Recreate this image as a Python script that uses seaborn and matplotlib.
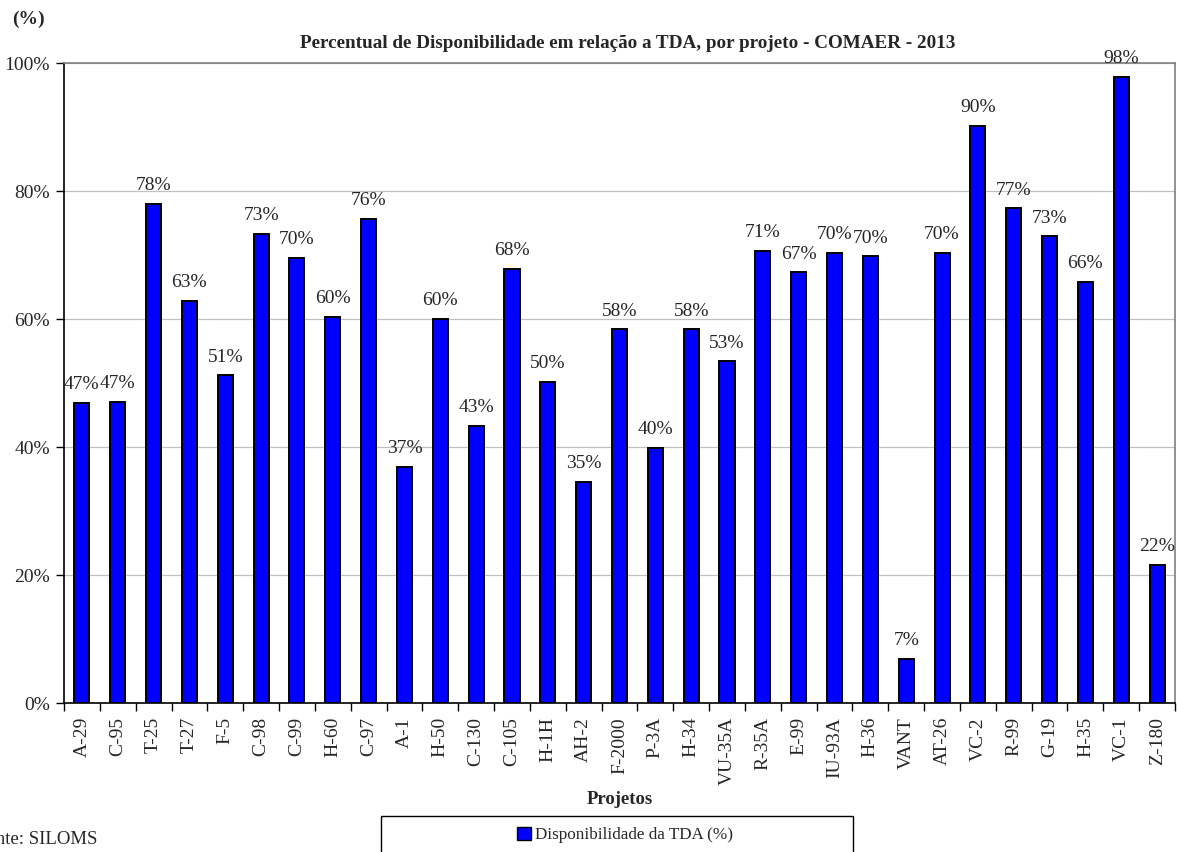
import matplotlib
matplotlib.use("Agg")
import matplotlib.pyplot as plt
import seaborn as sns
import pandas as pd
from matplotlib.patches import Rectangle
from matplotlib.ticker import FixedLocator, PercentFormatter

# Availability per aircraft project (% of TDA), COMAER 2013
projetos = ["A-29", "C-95", "T-25", "T-27", "F-5", "C-98", "C-99", "H-60", "C-97",
            "A-1", "H-50", "C-130", "C-105", "H-1H", "AH-2", "F-2000", "P-3A", "H-34",
            "VU-35A", "R-35A", "E-99", "IU-93A", "H-36", "VANT", "AT-26", "VC-2",
            "R-99", "G-19", "H-35", "VC-1", "Z-180"]
disponibilidade = [46.9, 47.0, 78.0, 62.8, 51.2, 73.3, 69.6, 60.3, 75.6,
                   36.9, 60.0, 43.3, 67.8, 50.2, 34.6, 58.4, 39.9, 58.4,
                   53.4, 70.6, 67.3, 70.3, 69.8, 6.9, 70.3, 90.2,
                   77.3, 72.9, 65.8, 97.8, 21.6]
yticks = [0, 20, 40, 60, 80, 100]

df = pd.DataFrame({"Projeto": projetos, "Disponibilidade": disponibilidade})

sns.set_theme(style="white")
plt.rcParams["font.family"] = ["Liberation Serif", "DejaVu Serif"]

fig = plt.figure(figsize=(11.77, 8.52), dpi=100)
ax = fig.add_axes([64 / 1177, 1 - 703 / 852, (1175 - 64) / 1177, (703 - 63) / 852])

sns.barplot(data=df, x="Projeto", y="Disponibilidade", color="#0000FF",
            saturation=1, edgecolor="black", linewidth=1.4, width=0.42, ax=ax,
            zorder=3)

labels = [f"{round(v)}%" for v in disponibilidade]
ax.bar_label(ax.containers[0], labels=labels, padding=7, fontsize=14)

ax.set_ylim(0, 100)
ax.set_xlim(-0.5, len(projetos) - 0.5)
ax.set_yticks(yticks)
ax.yaxis.set_major_formatter(PercentFormatter(decimals=0))
ax.grid(axis="y", color="#c0c0c0", linewidth=0.9, zorder=0)
ax.set_axisbelow(True)

# category separators as tick marks on the category axis
ax.xaxis.set_minor_locator(FixedLocator([i + 0.5 for i in range(-1, len(projetos))]))
ax.tick_params(axis="x", which="major", length=0, pad=10, labelsize=14,
               labelrotation=90)
ax.tick_params(axis="x", which="minor", length=6, width=1, color="black",
               direction="out", bottom=True)
ax.tick_params(axis="y", length=6, width=1, color="black", direction="out",
               left=True, pad=4, labelsize=14)

for side in ["top", "right"]:
    ax.spines[side].set_color("#808080")
    ax.spines[side].set_linewidth(1.2)
for side in ["left", "bottom"]:
    ax.spines[side].set_color("black")
    ax.spines[side].set_linewidth(1.2)

ax.set_xlabel("Projetos", fontsize=13.5, fontweight="bold", labelpad=4)
ax.set_ylabel("")

fig.text(628 / 1177, 1 - 44 / 852,
         "Percentual de Disponibilidade em relação a TDA, por projeto - COMAER - 2013",
         ha="center", va="center", fontsize=13.8, fontweight="bold")
fig.text(12 / 1177, 1 - 19 / 852, "(%)", ha="left", va="center",
         fontsize=14, fontweight="bold")
fig.text(97 / 1177, 1 - 840 / 852, "Fonte: SILOMS", ha="right", va="center",
         fontsize=13.5)

# legend frame spanning below the axis title
fig.patches.append(Rectangle((381 / 1177, 1 - 870 / 852), (853 - 381) / 1177,
                             (870 - 816) / 852, transform=fig.transFigure,
                             facecolor="white", edgecolor="black", linewidth=1.0))
handles = [Rectangle((0, 0), 1, 1, facecolor="#0000FF", edgecolor="black",
                     linewidth=1.0)]
fig.legend(handles, ["Disponibilidade da TDA (%)"], loc="center",
           bbox_to_anchor=(625 / 1177, 1 - 835 / 852), frameon=False,
           fontsize=12.3, handlelength=0.8, handleheight=0.8, handletextpad=0.2,
           borderpad=0)

fig.savefig("out.png", dpi=100)
